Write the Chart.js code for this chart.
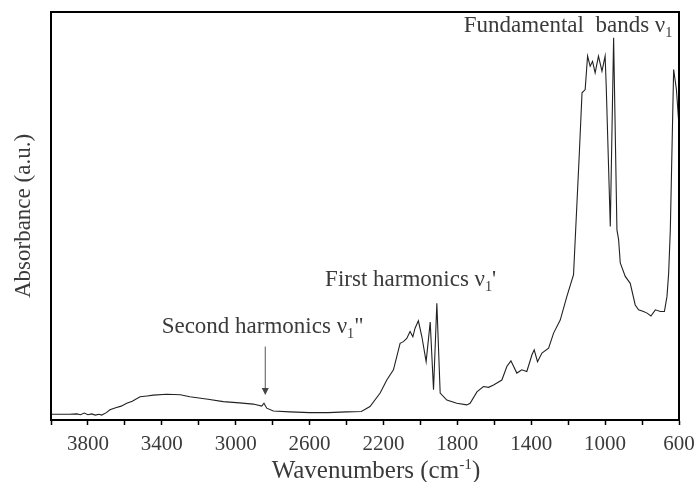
<!DOCTYPE html>
<html>
<head>
<meta charset="utf-8">
<script src="https://cdn.jsdelivr.net/npm/chart.js@4/dist/chart.umd.min.js"></script>
<style>
  body { margin: 0; background: #fff; }
  canvas { display: block; }
</style>
</head>
<body>
<canvas id="spectrum_id" width="697" height="482"></canvas>
<script>
// wavenumbers (cm-1) from left to right
const wavenumbers = [4000, 3950, 3900, 3860, 3840, 3820, 3800, 3780, 3760, 3740, 3726, 3700, 3681, 3650, 3620,
    3590, 3560, 3518, 3480, 3446, 3374, 3300, 3248, 3150, 3067, 2980, 2905, 2859, 2847, 2832, 2796, 2706, 2600,
    2500, 2400, 2320, 2273, 2218, 2182, 2146, 2110, 2092, 2074, 2056, 2041, 2029, 2011, 1992, 1969, 1947, 1929,
    1911, 1893, 1857, 1803, 1749, 1731, 1694, 1659, 1631, 1604, 1559, 1532, 1510, 1478, 1451, 1424, 1396, 1384,
    1366, 1342, 1306, 1279, 1243, 1207, 1171, 1162, 1140, 1125, 1108, 1095, 1081, 1068, 1054, 1036, 1017, 1000,
    994, 972, 954, 936, 927, 918, 891, 864, 837, 819, 792, 773, 752, 728, 701, 679, 665, 656, 647, 629, 614, 600];

// absorbance (a.u.), same order
const absorbance = [0.014, 0.014, 0.014, 0.015, 0.013, 0.017, 0.013, 0.015, 0.012, 0.014, 0.012, 0.018, 0.025, 0.030, 0.034,
    0.041, 0.046, 0.057, 0.059, 0.061, 0.063, 0.062, 0.057, 0.051, 0.045, 0.042, 0.039, 0.034, 0.041, 0.029, 0.022, 0.020, 0.018,
    0.018, 0.020, 0.021, 0.033, 0.066, 0.098, 0.123, 0.188, 0.192, 0.200, 0.217, 0.204, 0.225, 0.243, 0.204, 0.143, 0.240, 0.074,
    0.286, 0.066, 0.049, 0.041, 0.037, 0.041, 0.069, 0.082, 0.080, 0.086, 0.098, 0.131, 0.145, 0.115, 0.123, 0.119, 0.160, 0.172,
    0.143, 0.164, 0.176, 0.213, 0.245, 0.303, 0.356, 0.442, 0.650, 0.802, 0.810, 0.892, 0.867, 0.879, 0.851, 0.892, 0.855, 0.892,
    0.818, 0.474, 0.937, 0.466, 0.442, 0.385, 0.352, 0.335, 0.282, 0.270, 0.266, 0.262, 0.255, 0.270, 0.266, 0.266, 0.303, 0.360, 0.466, 0.859, 0.810, 0.720];

// labelled ticks on the x axis
const tickLabels = [3800, 3400, 3000, 2600, 2200, 1800, 1400, 1000, 600];

// annotations : [wavenumber, absorbance] where the text starts / ends
const annotations = [
    { parts: [['Second harmonics ν'], ['1', 'sub'], ['"']], at: [3401, 0.213], align: 'left' },
    { parts: [['First harmonics ν'], ['1', 'sub'], ["'"]], at: [2516, 0.329], align: 'left' },
    { parts: [['Fundamental  bands ν'], ['1', 'sub']], at: [636, 0.951], align: 'right' }
];
const arrowAt = [2840, 0.180, 0.061];

const textColor = '#3a3a3a';
const serif = '"Liberation Serif", "Times New Roman", serif';

function drawRich(ctx, parts, x, y, size, align) {
    let widths = parts.map(p => {
        ctx.font = (p[1] ? size * 0.62 : size) + 'px ' + serif;
        return ctx.measureText(p[0]).width;
    });
    let total = widths.reduce((a, b) => a + b, 0);
    let cx = align == 'right' ? x - total : (align == 'center' ? x - total / 2 : x);
    ctx.textAlign = 'left';
    ctx.textBaseline = 'alphabetic';
    parts.forEach((p, i) => {
        let dy = 0;
        if (p[1] == 'sub') dy = size * 0.22;
        if (p[1] == 'sup') dy = -size * 0.38;
        ctx.font = (p[1] ? size * 0.62 : size) + 'px ' + serif;
        ctx.fillText(p[0], cx, y + dy);
        cx += widths[i];
    });
}

const decorations = {
    id: 'decorations',
    afterDraw(chart) {
        const ctx = chart.ctx;
        const area = chart.chartArea;
        const xs = chart.scales.x;
        const ys = chart.scales.y;
        ctx.save();

        // frame
        ctx.strokeStyle = '#000';
        ctx.lineWidth = 2;
        ctx.strokeRect(area.left, area.top, area.right - area.left, area.bottom - area.top);

        // text
        ctx.fillStyle = textColor;
        annotations.forEach(a => {
            drawRich(ctx, a.parts, xs.getPixelForValue(a.at[0]), ys.getPixelForValue(a.at[1]), 23, a.align);
        });

        // arrow
        let ax = xs.getPixelForValue(arrowAt[0]);
        let y1 = ys.getPixelForValue(arrowAt[1]);
        let y2 = ys.getPixelForValue(arrowAt[2]);
        ctx.strokeStyle = '#555';
        ctx.lineWidth = 1;
        ctx.beginPath();
        ctx.moveTo(ax, y1);
        ctx.lineTo(ax, y2 - 5);
        ctx.stroke();
        ctx.fillStyle = '#444';
        ctx.beginPath();
        ctx.moveTo(ax - 3.5, y2 - 7);
        ctx.lineTo(ax + 3.5, y2 - 7);
        ctx.lineTo(ax, y2);
        ctx.closePath();
        ctx.fill();

        // x axis title with superscript
        ctx.fillStyle = textColor;
        drawRich(ctx, [['Wavenumbers (cm'], ['-1', 'sup'], [')']], 376, 478, 25, 'center');
        ctx.restore();
    }
};

new Chart(
    document.getElementById('spectrum_id'),
    {
        type: 'line',
        data: {
            datasets: [
                {
                    label: 'Absorbance',
                    data: wavenumbers.map((w, i) => ({ x: w, y: absorbance[i] })),
                    borderColor: '#222',
                    borderWidth: 1.1,
                    pointRadius: 0,
                    tension: 0,
                    fill: false
                }
            ]
        },
        options: {
            responsive: false,
            animation: false,
            devicePixelRatio: 1,
            layout: { padding: { top: 12, right: 18, left: 0, bottom: 0 } },
            plugins: {
                legend: { display: false },
                tooltip: { enabled: false }
            },
            scales: {
                x: {
                    type: 'linear',
                    reverse: true,
                    min: 600,
                    max: 4000,
                    afterFit: (scale) => {
                        scale.height = 62;
                        scale.paddingLeft = 0;
                        scale.paddingRight = 0;
                    },
                    ticks: {
                        stepSize: 200,
                        autoSkip: false,
                        maxRotation: 0,
                        padding: 7,
                        color: textColor,
                        font: { family: serif, size: 21 },
                        callback: (v) => tickLabels.includes(v) ? String(v) : ''
                    },
                    grid: {
                        display: true,
                        drawOnChartArea: false,
                        drawTicks: true,
                        tickLength: 5,
                        tickColor: '#000',
                        tickWidth: 1.5
                    },
                    border: { display: true, color: '#000', width: 2 }
                },
                y: {
                    min: 0,
                    max: 1,
                    afterFit: (scale) => { scale.width = 51; },
                    ticks: { display: false },
                    grid: { display: false },
                    border: { display: true, color: '#000', width: 2 },
                    title: {
                        display: true,
                        text: 'Absorbance (a.u.)',
                        color: textColor,
                        font: { family: serif, size: 23 },
                        padding: { top: 10, bottom: 0 }
                    }
                }
            }
        },
        plugins: [decorations]
    }
);
</script>
</body>
</html>
